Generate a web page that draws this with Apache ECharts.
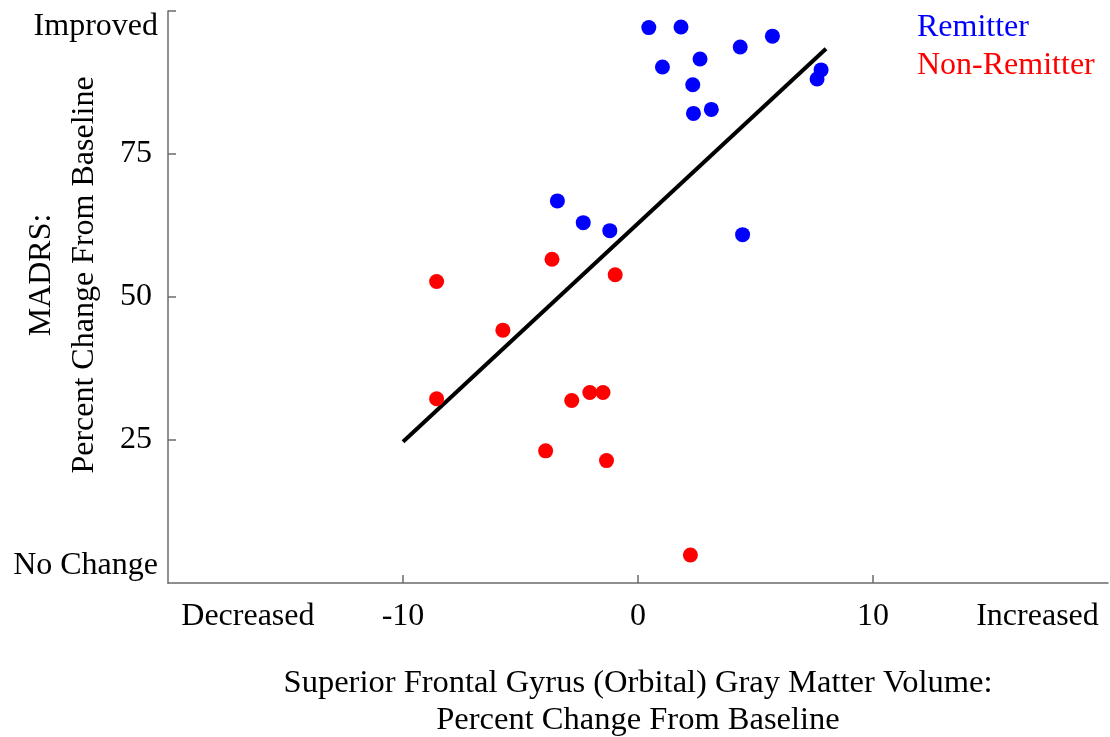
<!DOCTYPE html>
<html>
<head>
<meta charset="utf-8">
<title>MADRS vs gray matter volume</title>
<script src="https://cdn.jsdelivr.net/npm/echarts@6/dist/echarts.min.js"></script>
<style>
  html, body { margin: 0; padding: 0; background: #fff; }
  #chart { width: 1110px; height: 737px; }
</style>
</head>
<body>
<div id="chart"></div>
<script>
// remitters (blue): [volume change %, MADRS change %]
const remitterX = [0.46, 1.83, 5.72, 4.35, 2.64, 1.04, 7.79, 7.62, 2.33, 3.12, 2.36, -3.43, -2.33, -1.20, 4.45]
const remitterY = [97.1, 97.2, 95.6, 93.7, 91.6, 90.2, 89.7, 88.1, 87.1, 82.8, 82.1, 66.8, 63.0, 61.6, 60.9]

// non-remitters (red)
const nonRemitterX = [-3.66, -8.57, -0.97, -5.75, -8.57, -2.82, -2.05, -1.49, -3.93, -1.34, 2.23]
const nonRemitterY = [56.6, 52.7, 53.9, 44.2, 32.2, 31.9, 33.3, 33.3, 23.1, 21.4, 4.9]

// fitted line end points
const fitX = [-10, 8]
const fitY = [24.7, 93.4]

// tick labels
const xTickValues = [-16.6, -10, 0, 10, 17]
const xTickLabels = ['Decreased', '-10', '0', '10', 'Increased']
const yTickValues = [3.0, 25, 50, 75, 97.2]
const yTickLabels = ['No Change', '25', '50', '75', 'Improved']

const font = 'Liberation Serif'
const axisColor = '#6b6b6b'
const fs = 32

const zip = (xs, ys) => xs.map((x, i) => [x, ys[i]])

const chart = echarts.init(document.getElementById('chart'))

chart.setOption({
  animation: false,
  textStyle: { fontFamily: font },
  grid: { left: 168, right: 2, top: 11, bottom: 154, outerBoundsMode: 'none', containLabel: false },
  legend: {
    orient: 'vertical',
    left: 907,
    top: 7,
    itemWidth: 0,
    itemHeight: 0,
    itemGap: 6,
    selectedMode: false,
    textStyle: { fontFamily: font, fontSize: fs },
    data: [
      { name: 'Remitter', textStyle: { color: '#0000ff' } },
      { name: 'Non-Remitter', textStyle: { color: '#ff0000' } }
    ]
  },
  xAxis: {
    type: 'value',
    min: -20,
    max: 20,
    name: 'Superior Frontal Gyrus (Orbital) Gray Matter Volume:\nPercent Change From Baseline',
    nameLocation: 'middle',
    nameGap: 82,
    nameMoveOverlap: false,
    nameTextStyle: { fontFamily: font, fontSize: 32.5, color: '#000', lineHeight: 37 },
    splitLine: { show: false },
    axisLine: { onZero: false, lineStyle: { color: axisColor, width: 1.5 } },
    axisTick: {
      inside: true,
      length: 8,
      customValues: [-10, 0, 10],
      lineStyle: { color: axisColor, width: 1.5 }
    },
    axisLabel: {
      customValues: xTickValues,
      margin: 18,
      fontSize: fs,
      color: '#000',
      formatter: (v) => xTickLabels[xTickValues.indexOf(v)]
    }
  },
  yAxis: {
    type: 'value',
    min: 0,
    max: 100,
    name: 'MADRS:\nPercent Change From Baseline',
    nameLocation: 'middle',
    nameRotate: 90,
    nameGap: 62,
    nameMoveOverlap: false,
    nameTextStyle: { fontFamily: font, fontSize: fs, color: '#000', lineHeight: 43, padding: [0, 0, 0, 44] },
    splitLine: { show: false },
    axisLine: { onZero: false, lineStyle: { color: axisColor, width: 1.5 } },
    axisTick: {
      inside: true,
      length: 8,
      customValues: [25, 50, 75, 100],
      lineStyle: { color: axisColor, width: 1.5 }
    },
    axisLabel: {
      customValues: yTickValues,
      margin: 10,
      fontSize: fs,
      color: '#000',
      formatter: (v) => {
        const s = yTickLabels[yTickValues.indexOf(v)]
        return /^\d+$/.test(s) ? '{num|' + s + '}' : s
      },
      rich: {
        num: { fontFamily: font, fontSize: fs, color: '#000', padding: [0, 6, 0, 0] }
      }
    }
  },
  series: [
    {
      name: 'Remitter',
      type: 'scatter',
      symbolSize: 15,
      itemStyle: { color: '#0000ff', opacity: 1 },
      data: zip(remitterX, remitterY),
      z: 3
    },
    {
      name: 'Non-Remitter',
      type: 'scatter',
      symbolSize: 15,
      itemStyle: { color: '#ff0000', opacity: 1 },
      data: zip(nonRemitterX, nonRemitterY),
      z: 3
    },
    {
      name: 'fit',
      type: 'line',
      showSymbol: false,
      symbol: 'none',
      lineStyle: { color: '#000', width: 4 },
      data: zip(fitX, fitY),
      z: 2
    }
  ]
})
</script>
</body>
</html>
